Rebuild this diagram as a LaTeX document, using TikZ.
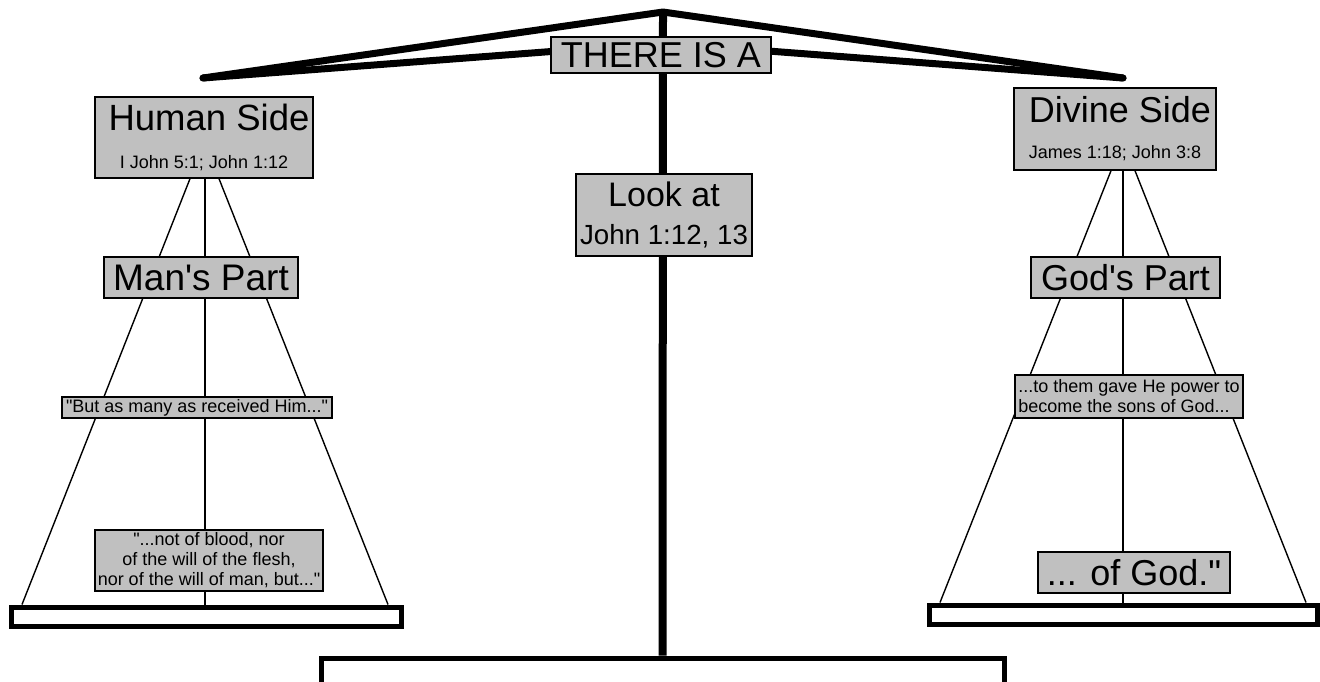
\documentclass[tikz,border=0pt]{standalone}
\usepackage{fontspec}
\setmainfont{Liberation Sans}
\usepackage{tikz}
\usetikzlibrary{calc,positioning,backgrounds}
\definecolor{plaquegray}{HTML}{C0C0C0}
\newcommand{\scfont}[2]{\fontsize{#1}{#2}\selectfont}
\tikzset{
  scplaque/.style={
    draw=black, fill=plaquegray, line width=1.4pt,
    inner sep=0pt, align=center, text=black
  },
  scpan/.style={draw=black, fill=white, line width=5pt, inner sep=0pt},
  scbeam/.style={line width=7pt, line cap=round, line join=round},
  scpost/.style={line width=8pt},
  schanger/.style={line width=1.4pt}
}
\begin{document}
\begin{tikzpicture}[x=1pt,y=-1pt]
  \useasboundingbox (0,0) rectangle (1320,681);
  \coordinate (apex) at (663,12);
  \coordinate (hub) at (663,43);
  \coordinate (lend) at (203,78);
  \coordinate (rend) at (1123,78);
  % base and pans
  \node[scpan,minimum width=683,minimum height=40] (base) at (662.5,678) {};
  \node[scpan,minimum width=390,minimum height=19] (lpan) at (206,616.5) {};
  \node[scpan,minimum width=388,minimum height=19] (rpan) at (1123,614.5) {};
  % plaques
  \node[scplaque,minimum width=220,minimum height=36,font=\scfont{36}{36}] (thereis) at (661,55) {THERE IS A};
  \node[scplaque,minimum width=176,minimum height=82,font=\scfont{27.7}{27.7}] (lookat) at (664,215) {{\scfont{34}{34}Look at}\\[11pt]John 1:12, 13};
  \node[scplaque,minimum width=218,minimum height=81,font=\scfont{18}{18}] (human) at (204,137.5) {\hspace*{10pt}{\scfont{36.5}{36.5}Human Side}\\[20pt]I John 5:1; John 1:12};
  \node[scplaque,minimum width=194,minimum height=41,font=\scfont{37}{37}] (manpart) at (201,277.5) {Man\textquotesingle s Part};
  \node[scplaque,minimum width=270,minimum height=21,font=\scfont{18}{20}] (received) at (197,407.5) {\textquotedbl But as many as received Him...\textquotedbl};
  \node[scplaque,minimum width=228,minimum height=61,font=\scfont{18}{20}] (blood) at (209,560.5) {\textquotedbl...not of blood, nor\\of the will of the flesh,\\nor of the will of man, but...\textquotedbl};
  \node[scplaque,minimum width=202,minimum height=82,font=\scfont{18}{18}] (divine) at (1115,129) {\hspace*{10pt}{\scfont{36}{36}Divine Side}\\[18pt]James 1:18; John 3:8};
  \node[scplaque,minimum width=189,minimum height=41,font=\scfont{36}{36}] (godpart) at (1125.5,277.5) {God\textquotesingle s Part};
  \node[scplaque,minimum width=228,minimum height=43,font=\scfont{18}{20},align=left] (power) at (1129,396.5) {...to them gave He power to\\become the sons of God...};
  \node[scplaque,minimum width=192,minimum height=41,font=\scfont{36}{36}] (ofgod) at (1134,572.5) {... of God.\textquotedbl};
  % beam, post and hangers behind the plaques
  \begin{scope}[on background layer]
    \draw[scpost] (apex) -- (base.north);
    \draw[scbeam] (lend) -- (apex) -- (rend);
    \draw[scbeam] (lend) -- (hub) -- (rend);
    \foreach \dt/\db in {-14/-184,1/-1,15/182}
      \draw[schanger] ($(human.south)+(\dt,0)$) -- ($(lpan.north)+(\db,0)$);
    \foreach \dt/\db in {-4/-183,8/0,20/183}
      \draw[schanger] ($(divine.south)+(\dt,0)$) -- ($(rpan.north)+(\db,0)$);
  \end{scope}
\end{tikzpicture}
\end{document}
